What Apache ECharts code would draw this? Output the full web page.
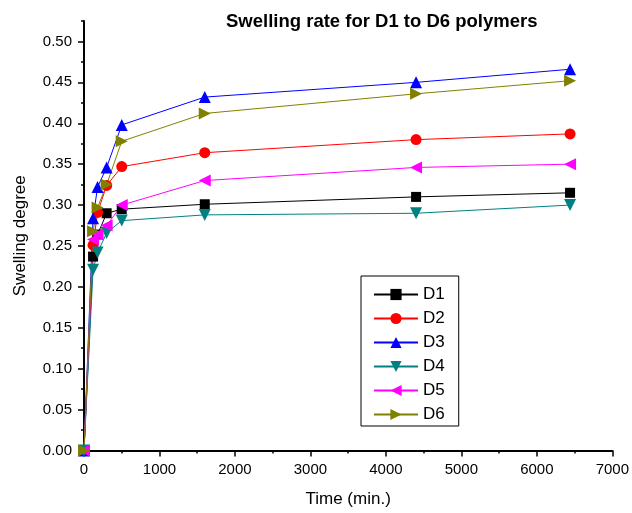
<!DOCTYPE html>
<html>
<head>
<meta charset="utf-8">
<script src="https://cdn.jsdelivr.net/npm/echarts@6/dist/echarts.min.js"></script>
<style>html,body{margin:0;padding:0;background:#fff;}#c{width:632px;height:513px;}</style>
</head>
<body>
<div id="c"></div>
<script>
const times = [0, 120, 180, 300, 500, 1600, 4400, 6440];
const D1 = [0, 0.237, 0.264, 0.290, 0.295, 0.301, 0.310, 0.315];
const D2 = [0, 0.251, 0.291, 0.324, 0.347, 0.364, 0.380, 0.387];
const D3 = [0, 0.284, 0.322, 0.346, 0.398, 0.432, 0.450, 0.466];
const D4 = [0, 0.221, 0.242, 0.266, 0.281, 0.288, 0.290, 0.300];
const D5 = [0, 0.258, 0.264, 0.275, 0.300, 0.330, 0.346, 0.350];
const D6 = [0, 0.268, 0.297, 0.325, 0.378, 0.412, 0.436, 0.452];
const yMajorTicks = [0, 0.05, 0.10, 0.15, 0.20, 0.25, 0.30, 0.35, 0.40, 0.45, 0.50];
const yMinorTicks = [0.025, 0.075, 0.125, 0.175, 0.225, 0.275, 0.325, 0.375, 0.425, 0.475, 0.525];

const FONT = 'Liberation Sans, Arial, sans-serif';
function pairs(arr){ return times.map((t,i)=>[t, arr[i]]); }
const seriesDefs = [
  {name:'D1', data:D1, color:'#000000', symbol:'rect', size:10, rot:0},
  {name:'D2', data:D2, color:'#FF0000', symbol:'circle', size:11, rot:0},
  {name:'D3', data:D3, color:'#0000FF', symbol:'triangle', size:12, rot:0},
  {name:'D4', data:D4, color:'#008080', symbol:'triangle', size:12, rot:180},
  {name:'D5', data:D5, color:'#FF00FF', symbol:'triangle', size:12, rot:90},
  {name:'D6', data:D6, color:'#808000', symbol:'triangle', size:12, rot:-90}
];

const chart = echarts.init(document.getElementById('c'), null, {renderer:'canvas'});
chart.setOption({
  animation:false,
  backgroundColor:'#fff',
  title:{text:'Swelling rate for D1 to D6 polymers', left:226, top:12, padding:0,
    textStyle:{fontFamily:FONT, fontSize:18.5, fontWeight:'bold', color:'#000'}},
  grid:{left:84, right:19, top:21, bottom:62.5, containLabel:false},
  legend:{orient:'vertical', left:361, top:276, padding:[10,14,3,12],
    borderColor:'#000', borderWidth:1, itemWidth:44, itemHeight:14, itemGap:7,
    textStyle:{fontFamily:FONT, fontSize:17, color:'#000'},
    data:seriesDefs.map(s=>s.name)},
  xAxis:{type:'value', min:0, max:7000, interval:1000,
    name:'Time (min.)', nameLocation:'middle', nameGap:40,
    nameTextStyle:{fontFamily:FONT, fontSize:17, color:'#000'},
    axisLine:{show:true, onZero:false, lineStyle:{color:'#000', width:2}},
    axisTick:{show:true, length:6, lineStyle:{color:'#000', width:1.5}},
    minorTick:{show:true, splitNumber:2, length:3, lineStyle:{color:'#000', width:1.5}},
    axisLabel:{fontFamily:FONT, fontSize:15, color:'#000', margin:12, formatter:v=>String(v)},
    splitLine:{show:false}},
  yAxis:[{type:'value', min:0, max:0.525,
    name:'Swelling degree', nameLocation:'middle', nameGap:55,
    nameTextStyle:{fontFamily:FONT, fontSize:17, color:'#000'},
    axisLine:{show:true, onZero:false, lineStyle:{color:'#000', width:2}},
    axisTick:{show:true, length:6, customValues:yMajorTicks, lineStyle:{color:'#000', width:1.5}},
    axisLabel:{fontFamily:FONT, fontSize:15, color:'#000', margin:12, customValues:yMajorTicks,
      formatter:v=>v.toFixed(2)},
    splitLine:{show:false}},
   {type:'value', min:0, max:0.525, position:'left', offset:0,
    axisLine:{show:false},
    axisTick:{show:true, length:3, customValues:yMinorTicks, lineStyle:{color:'#000', width:1.5}},
    axisLabel:{show:false}, splitLine:{show:false}}],
  series:seriesDefs.map(s=>({
    name:s.name, type:'line', data:pairs(s.data), yAxisIndex:0,
    symbol:s.symbol, symbolSize:s.size, symbolRotate:s.rot, showAllSymbol:true,
    lineStyle:{color:s.color, width:1}, itemStyle:{color:s.color},
    emphasis:{disabled:true}
  }))
});
</script>
</body>
</html>
